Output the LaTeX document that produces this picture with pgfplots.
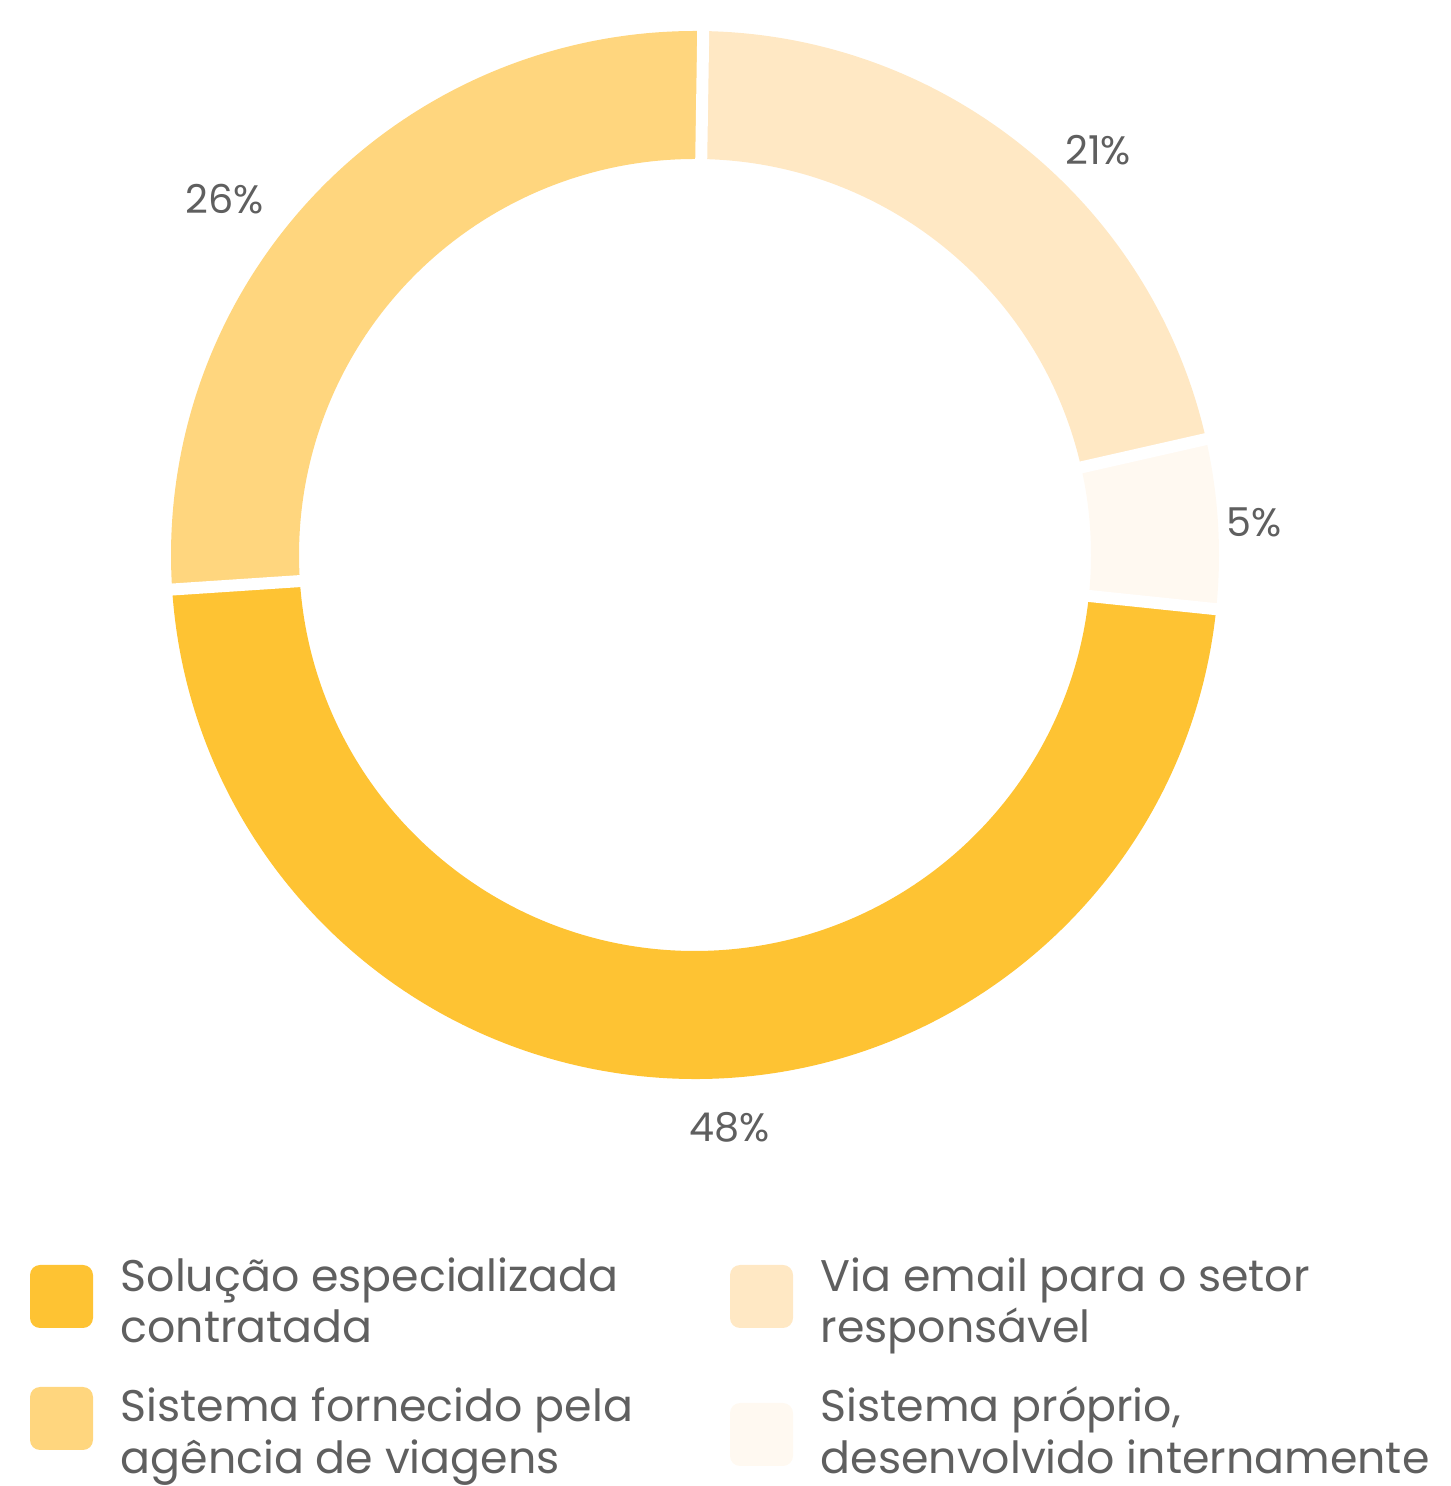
\documentclass[border=0pt]{standalone}
\usepackage{fontspec}
\setmainfont{Poppins}
\usepackage{pgfplots}
\usepackage{pgfplotstable}
\pgfplotsset{compat=1.18}

\definecolor{c48}{HTML}{FEC333}
\definecolor{c26}{HTML}{FFD67E}
\definecolor{c21}{HTML}{FFE8C4}
\definecolor{c05}{HTML}{FFF9F1}
\definecolor{txt}{HTML}{5F5F5F}

\newcommand\labelfont{\fontsize{11.3}{13}\selectfont}
\newcommand\legfont{\fontsize{12.6}{14.5}\selectfont}

% share in %, printed label, label position (axis units), colour
\pgfplotstableread{
share label lx ly col
21.2 21 4.03 3.90 c21
5.2 5 5.59 0.18 c05
47.3 48 0.35 -5.87 c48
26.3 26 -4.70 3.41 c26
}\shares

\begin{document}
\begin{tikzpicture}
\begin{axis}[x=1cm, y=1cm,
  xmin=-6.95, xmax=7.55, ymin=-9.31, ymax=5.55,
  hide axis, clip=false]
\def\Ro{5.24}\def\Ri{3.96}
\pgfplotstablegetrowsof{\shares}
\pgfmathtruncatemacro\nrows{\pgfplotsretval-1}
\pgfmathsetmacro\dr{\Ri-\Ro}
% wedges
\def\astart{89.1}
\pgfplotsforeachungrouped \i in {0,...,\nrows}{%
  \pgfplotstablegetelem{\i}{share}\of\shares \let\v\pgfplotsretval
  \pgfplotstablegetelem{\i}{col}\of\shares \let\c\pgfplotsretval
  \pgfmathsetmacro\aend{\astart-3.6*\v}
  \edef\cmd{\noexpand\fill[\c] (axis cs:0,0) ++(\astart:\Ro cm)
    arc[start angle=\astart, end angle=\aend, radius=\Ro cm]
    -- ++(\aend:\dr cm)
    arc[start angle=\aend, end angle=\astart, radius=\Ri cm] -- cycle;}
  \cmd
  \global\let\astart\aend
}
% white gaps and labels
\def\astart{89.1}
\pgfplotsforeachungrouped \i in {0,...,\nrows}{%
  \pgfplotstablegetelem{\i}{share}\of\shares \let\v\pgfplotsretval
  \pgfplotstablegetelem{\i}{label}\of\shares \let\lab\pgfplotsretval
  \pgfplotstablegetelem{\i}{lx}\of\shares \let\lx\pgfplotsretval
  \pgfplotstablegetelem{\i}{ly}\of\shares \let\ly\pgfplotsretval
  \pgfmathsetmacro\aend{\astart-3.6*\v}
  \edef\cmd{\noexpand\draw[white, line width=0.12cm] (axis cs:0,0) ++(\astart:3.8cm) -- ++(\astart:1.6cm);
    \noexpand\node[anchor=base, inner sep=0pt, text=txt, font=\noexpand\labelfont] at (axis cs:\lx,\ly) {\lab\noexpand\%};}
  \cmd
  \global\let\astart\aend
}
% legend
\fill[c48, rounded corners=0.1cm] (axis cs:-6.65,-7.10) rectangle (axis cs:-6.02,-7.73);
\fill[c26, rounded corners=0.1cm] (axis cs:-6.65,-8.32) rectangle (axis cs:-6.02,-8.95);
\fill[c21, rounded corners=0.1cm] (axis cs:0.35,-7.10) rectangle (axis cs:0.98,-7.73);
\fill[c05, rounded corners=0.1cm] (axis cs:0.35,-8.48) rectangle (axis cs:0.98,-9.11);
\begin{scope}[every node/.style={anchor=base west, inner sep=0pt, text=txt, font=\legfont}]
\node at (axis cs:-5.75,-7.37) {Solução especializada};
\node at (axis cs:-5.75,-7.88) {contratada};
\node at (axis cs:-5.75,-8.67) {Sistema fornecido pela};
\node at (axis cs:-5.75,-9.18) {agência de viagens};
\node at (axis cs:1.25,-7.37) {Via email para o setor};
\node at (axis cs:1.25,-7.88) {responsável};
\node at (axis cs:1.25,-8.67) {Sistema próprio,};
\node at (axis cs:1.25,-9.18) {desenvolvido internamente};
\end{scope}
\coordinate (bbl) at (axis cs:-6.95,-9.31);
\coordinate (btr) at (axis cs:7.55,5.55);
\end{axis}
\pgfresetboundingbox
\path[use as bounding box] (bbl) rectangle (btr);
\end{tikzpicture}
\end{document}
